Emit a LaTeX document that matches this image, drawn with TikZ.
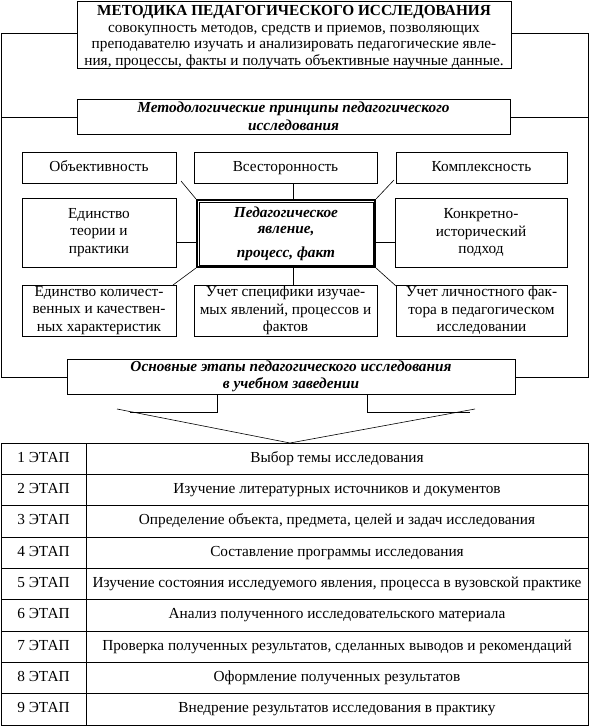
\documentclass[tikz,border=0pt]{standalone}
\usepackage{fontspec}
\setmainfont{Liberation Serif}
\begin{document}
\begin{tikzpicture}[x=1pt,y=-1pt,
  box/.style={draw, line width=0.6pt, inner sep=0pt, align=center, font=\fontsize{15.3}{17.5}\selectfont},
  one/.style={box, text height=10.5pt, text depth=3.5pt},
  bibox/.style={box, font=\fontsize{15.3}{17.5}\selectfont\bfseries\itshape},
  ln/.style={line width=0.6pt}]
\useasboundingbox (0,0) rectangle (589,726);
% top
\node[draw, line width=0.6pt, inner sep=0pt, minimum width=434pt, minimum height=67pt] (top) at (294,34.5) {};
\node[align=center, inner sep=0pt, font=\fontsize{15.3}{16.6}\selectfont] (toptext) at (294,37)
  {{\bfseries МЕТОДИКА ПЕДАГОГИЧЕСКОГО ИССЛЕДОВАНИЯ}\\совокупность методов, средств и приемов, позволяющих\\преподавателю изучать и анализировать педагогические явле-\\ния, процессы, факты и получать объективные научные данные.};
\node[bibox, minimum width=433pt, minimum height=35pt] (meth) at (293.5,116.5)
  {Методологические принципы педагогического\\исследования};
% principles
\node[one, minimum width=154pt, minimum height=31pt] (obj) at (99,167.5) {Объективность};
\node[one, minimum width=183pt, minimum height=31pt] (vses) at (285.5,167.5) {Всесторонность};
\node[one, minimum width=171pt, minimum height=31pt] (kompl) at (481.5,167.5) {Комплексность};
\node[box, minimum width=154pt, minimum height=69pt] (edin) at (99,232.5) {Единство\\теории и\\практики};
\node[box, minimum width=172pt, minimum height=69pt] (konkr) at (481,232.5) {Конкретно-\\исторический\\подход};
\node[box, minimum width=154pt, minimum height=51pt] (kolich) at (99,310.5) {Единство количест-\\венных и качествен-\\ных характеристик};
\node[box, minimum width=183pt, minimum height=51pt] (spec) at (285.5,310.5) {Учет специфики изучае-\\мых явлений, процессов и\\фактов};
\node[box, minimum width=171pt, minimum height=51pt] (lichn) at (481.5,310.5) {Учет личностного фак-\\тора в педагогическом\\исследовании};
% center
\node[draw, line width=2pt, inner sep=0pt, minimum width=178pt, minimum height=67pt, align=center,
  font=\fontsize{15.3}{16}\selectfont\bfseries\itshape] (cen) at (286,233.5)
  {Педагогическое\\явление,\\[8pt]процесс, факт};
\draw[line width=0.6pt] ([xshift=3pt,yshift=-3pt]cen.north west) rectangle ([xshift=-3pt,yshift=3pt]cen.south east);
% connectors
\draw[ln] (181,181) -- (cen.north west);
\draw[ln] (293,183) -- (293,200);
\draw[ln] (394,180) -- (cen.north east);
\draw[ln] (edin.east |- 0,242) -- (cen.west |- 0,242);
\draw[ln] (cen.east |- 0,242) -- (konkr.west |- 0,242);
\draw[ln] (173,285) -- (cen.south west);
\draw[ln] (293,267) -- (293,285);
\draw[ln] (cen.south east) -- (396,286);
% bottom header
\node[bibox, minimum width=448pt, minimum height=35pt] (osn) at (291,376.5)
  {Основные этапы педагогического исследования\\в учебном заведении};
% outer frame
\draw[ln] (top.west |- 0,33) -- (1,33) -- (1,377) -- (osn.west |- 0,377);
\draw[ln] (top.east |- 0,33) -- (588,33) -- (588,377) -- (osn.east |- 0,377);
\draw[ln] (1,117) -- (meth.west |- 0,117);
\draw[ln] (meth.east |- 0,117) -- (588,117);
% arrow
\coordinate (apex) at (290,443);
\draw[ln] (217,394) -- (217,412) -- (130,412);
\draw[ln] (367,394) -- (367,412) -- (470,412);
\draw[ln] (117,409) -- (apex) -- (475,409);
% table
\foreach \i/\t in {1/Выбор темы исследования,
  2/Изучение литературных источников и документов,
  3/{Определение объекта, предмета, целей и задач исследования},
  4/Составление программы исследования,
  5/{Изучение состояния исследуемого явления, процесса в вузовской практике},
  6/Анализ полученного исследовательского материала,
  7/{Проверка полученных результатов, сделанных выводов и рекомендаций},
  8/Оформление полученных результатов,
  9/Внедрение результатов исследования в практику}{
  \node[one, minimum width=85pt, minimum height=31.33pt] (s\i) at (43.5,{443+(\i-0.5)*31.33}) {\i\ ЭТАП};
  \node[one, minimum width=502pt, minimum height=31.33pt] (t\i) at (337,{443+(\i-0.5)*31.33}) {\t};
}
\end{tikzpicture}
\end{document}
